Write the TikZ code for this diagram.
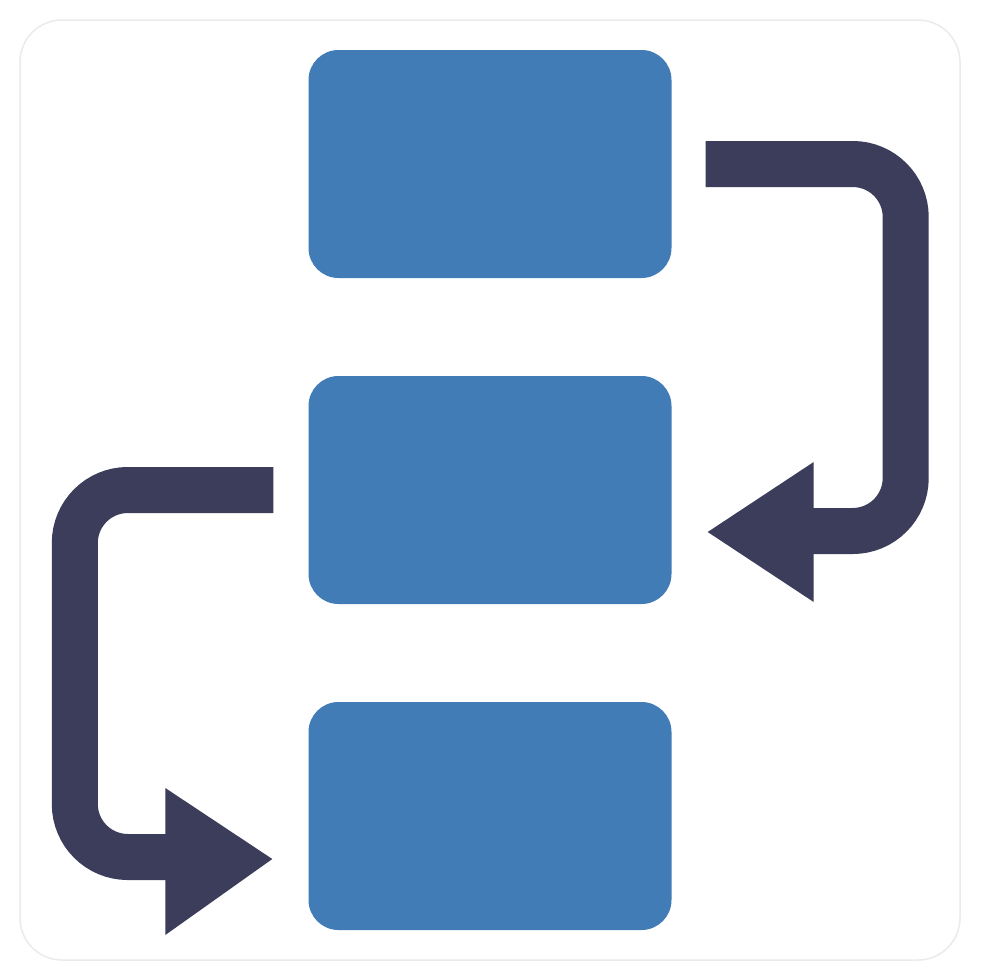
\documentclass[tikz,border=0pt]{standalone}
\usetikzlibrary{calc}
\definecolor{boxblue}{HTML}{427CB6}
\definecolor{arrowdark}{HTML}{3B3D5A}
\definecolor{framegray}{HTML}{EBEBEB}
\tikzset{
  stepbox/.style={fill=boxblue, draw=none, rounded corners=30pt, inner sep=0pt,
    minimum width=363pt, minimum height=228pt, shape=rectangle},
  flowline/.style={draw=arrowdark, line width=46pt, rounded corners=53pt, line cap=butt},
  headfill/.style={fill=arrowdark, draw=none}
}
\begin{document}
\begin{tikzpicture}[x=1pt,y=-1pt]
\useasboundingbox (0,0) rectangle (980,980);
\fill[white] (0,0) rectangle (980,980);
\draw[framegray, line width=1.5pt, rounded corners=42pt] (20,20) rectangle (960,960);

\node[stepbox] (b1) at (490,164) {};
\node[stepbox] (b2) at (490,490) {};
\node[stepbox] (b3) at (490,816) {};

\coordinate (r0) at ($(b1.east)+(34,0)$);
\coordinate (rc) at ($(b2.east)+(234,41)$);
\coordinate (rb) at ($(b2.east)+(142,41)$);
\coordinate (rt) at ($(b2.east)+(36,42)$);
\draw[flowline] (r0) -| (rc) -- ($(rb)+(-10,0)$);
\fill[headfill] ($(rb)+(0,-69)$) -- (rt) -- ($(rb)+(0,71)$) -- cycle;

\coordinate (l0) at ($(b2.west)+(-35,0)$);
\coordinate (lc) at ($(b3.west)+(-233.5,41)$);
\coordinate (lb) at ($(b3.west)+(-143,41)$);
\coordinate (lt) at ($(b3.west)+(-36,43)$);
\draw[flowline] (l0) -| (lc) -- ($(lb)+(10,0)$);
\fill[headfill] ($(lb)+(0,-69)$) -- (lt) -- ($(lb)+(0,78)$) -- cycle;
\end{tikzpicture}
\end{document}
